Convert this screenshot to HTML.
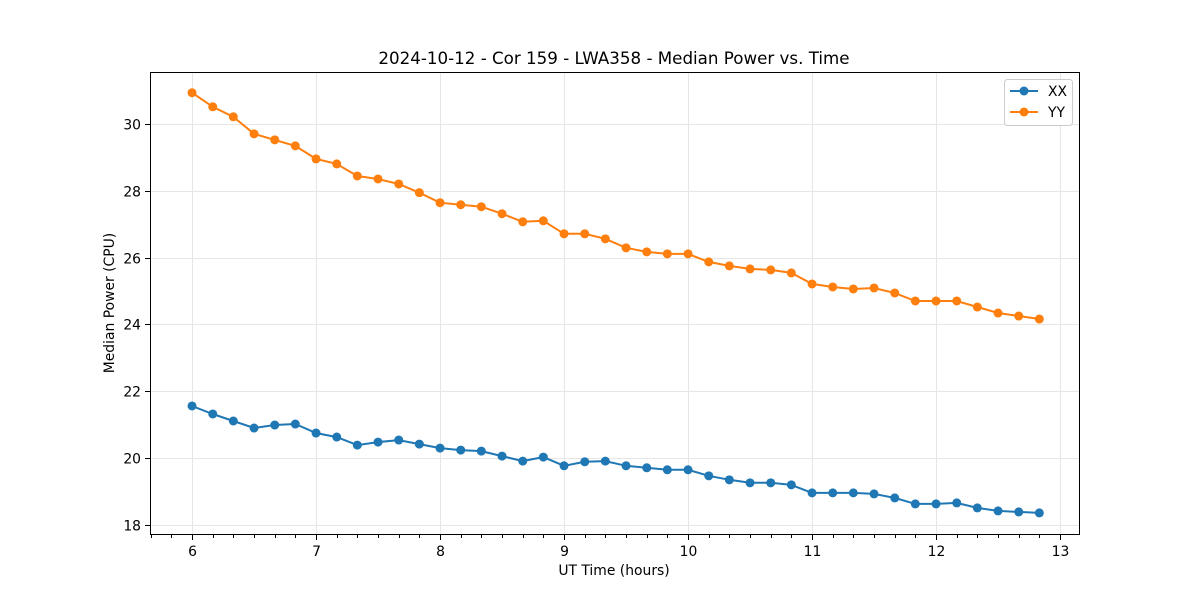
<!DOCTYPE html>
<html><head><meta charset="utf-8"><style>
body{margin:0;background:#fff}
svg text{font-family:"DejaVu Sans","Liberation Sans",sans-serif;fill:#000}
</style></head><body>
<svg id="chart" width="1200" height="600" xmlns="http://www.w3.org/2000/svg">
<rect width="1200" height="600" fill="#fff"/>
<g id="grid"></g>
<g id="series"></g>
<rect x="150.5" y="72.5" width="929" height="462" fill="none" stroke="#000" stroke-width="1"/>
<g id="axes"></g>
<text x="614" y="64" font-size="16.7" text-anchor="middle">2024-10-12 - Cor 159 - LWA358 - Median Power vs. Time</text>
<text x="614" y="575" font-size="13.9" text-anchor="middle">UT Time (hours)</text>
<text x="0" y="0" font-size="13.9" text-anchor="middle" transform="translate(114,303) rotate(-90)">Median Power (CPU)</text>
<g>
<rect x="1004.5" y="79.5" width="68" height="46" rx="3" fill="#fff" stroke="#ccc"/>
<g><line x1="1010" y1="91" x2="1038" y2="91" stroke="#1f77b4" stroke-width="2"/><circle cx="1024" cy="91" r="4.5" fill="#1f77b4"/><text x="1048" y="96" font-size="13.9">XX</text></g>
<g><line x1="1010" y1="112" x2="1038" y2="112" stroke="#ff7f0e" stroke-width="2"/><circle cx="1024" cy="112" r="4.5" fill="#ff7f0e"/><text x="1048" y="117" font-size="13.9">YY</text></g>
</g>
</svg>
<script>
const xTicks=[6,7,8,9,10,11,12,13];
const yTicks=[18,20,22,24,26,28,30];
const times=[6.0,6.167,6.333,6.5,6.667,6.833,7.0,7.167,7.333,7.5,7.667,7.833,8.0,8.167,8.333,8.5,8.667,8.833,9.0,9.167,9.333,9.5,9.667,9.833,10.0,10.167,10.333,10.5,10.667,10.833,11.0,11.167,11.333,11.5,11.667,11.833,12.0,12.167,12.333,12.5,12.667,12.833];
const xxValues=[21.56,21.32,21.11,20.90,20.99,21.02,20.75,20.63,20.39,20.48,20.54,20.42,20.30,20.24,20.21,20.06,19.91,20.03,19.77,19.89,19.91,19.77,19.71,19.65,19.65,19.47,19.35,19.26,19.26,19.20,18.96,18.96,18.96,18.93,18.81,18.63,18.63,18.66,18.51,18.42,18.39,18.36];
const yyValues=[30.93,30.51,30.21,29.70,29.52,29.34,28.95,28.80,28.44,28.35,28.20,27.94,27.64,27.58,27.52,27.31,27.07,27.10,26.71,26.71,26.56,26.29,26.17,26.11,26.11,25.87,25.75,25.66,25.63,25.54,25.21,25.12,25.06,25.09,24.94,24.70,24.70,24.70,24.52,24.34,24.25,24.16];
const NS="http://www.w3.org/2000/svg";
const X0=150,X1=1080,Y0=535,Y1=72;
const xMin=5.661,xMax=13.161,yMin=17.70,yMax=31.55;
const xs=v=>X0+(v-xMin)/(xMax-xMin)*(X1-X0);
const ys=v=>Y0-(v-yMin)/(yMax-yMin)*(Y0-Y1);
function mk(tag,attrs,parent){const e=document.createElementNS(NS,tag);for(const k in attrs)e.setAttribute(k,attrs[k]);parent.appendChild(e);return e;}
const grid=document.getElementById('grid'),axes=document.getElementById('axes'),ser=document.getElementById('series');
xTicks.forEach(t=>{const x=Math.round(xs(t))+0.5;
 const g=mk('line',{x1:x,x2:x,y1:Y1,y2:Y0,stroke:'#e6e6e6','stroke-width':1},grid);
 
 
 mk('line',{x1:x,x2:x,y1:Y0,y2:Y0+5,stroke:'#000'},axes);
 const tx=mk('text',{x:x,y:Y0+21,'font-size':13.9,'text-anchor':'middle'},axes);tx.textContent=t;
 
 
});
for(let i=0;i<=45;i++){const t=5.6667+i/6;if(t>xMax)break;if(Math.abs(t-Math.round(t))<0.01)continue;const x=Math.round(xs(t))+0.5;mk('line',{x1:x,x2:x,y1:Y0,y2:Y0+3,stroke:'#000'},axes);}
yTicks.forEach(t=>{const y=Math.round(ys(t))+0.5;
 const g=mk('line',{x1:X0,x2:X1,y1:y,y2:y,stroke:'#e6e6e6','stroke-width':1},grid);
 
 
 mk('line',{x1:X0-5,x2:X0,y1:y,y2:y,stroke:'#000'},axes);
 const tx=mk('text',{x:X0-9,y:y+5,'font-size':13.9,'text-anchor':'end'},axes);tx.textContent=t;
 
 
});
[[xxValues,'#1f77b4','xx'],[yyValues,'#ff7f0e','yy']].forEach(([vals,c,n])=>{
 const pts=vals.map((v,i)=>xs(times[i]).toFixed(1)+','+ys(v).toFixed(1)).join(' ');
 const l=mk('polyline',{points:pts,fill:'none',stroke:c,'stroke-width':2},ser);
 
 
 vals.forEach((v,i)=>{const p=mk('circle',{cx:xs(times[i]),cy:ys(v),r:4.5,fill:c},ser);
  
  });
});
</script>
</body></html>
